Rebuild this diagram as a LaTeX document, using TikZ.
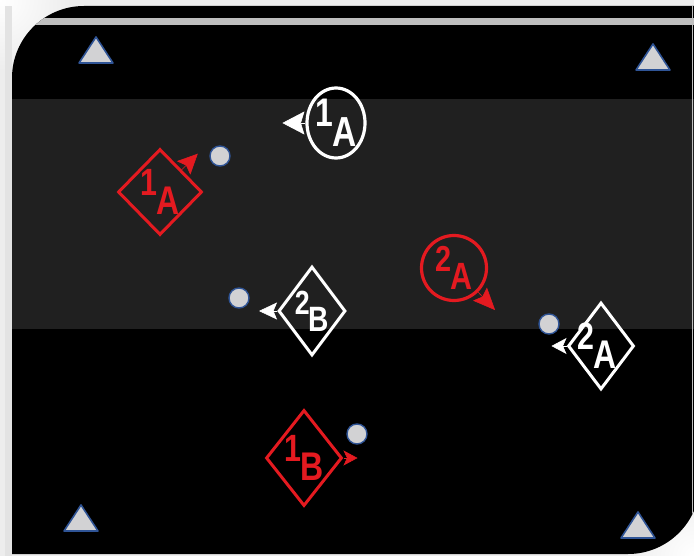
\documentclass[tikz,border=0pt]{standalone}
\usepackage{fontspec}
\usetikzlibrary{shapes.geometric,arrows.meta}
\newfontfamily\plfont[FakeStretch=0.8]{Liberation Sans}
\definecolor{plred}{RGB}{228,26,32}
\definecolor{band}{RGB}{32,32,32}
\definecolor{coneblue}{RGB}{47,84,150}
\definecolor{conegray}{RGB}{210,210,212}
\newcommand\plab[2]{\plfont\bfseries\raisebox{9.5pt}{\fontsize{38}{38}\selectfont#1}\kern-1pt\raisebox{-9.5pt}{\fontsize{40}{40}\selectfont#2}}
\tikzset{
  pdiam/.style={diamond, line width=3pt, inner sep=0pt, aspect=1},
  pcirc/.style={ellipse, line width=3.2pt, inner sep=0pt},
  ball/.style={circle, draw=coneblue, fill=conegray, line width=1.4pt, minimum size=20pt, inner sep=0pt},
  cone/.style={draw=coneblue, fill=conegray, line width=1.6pt, line join=round},
  ptip/.style n args={2}{line width=.6pt, -{Stealth[length=#1, width=#2, inset=3.5pt]}}
}
\begin{document}
\begin{tikzpicture}[x=1pt, y=-1pt]
  \useasboundingbox (0,0) rectangle (694,556);
  \clip (0,0) rectangle (694,556);
  \fill[gray!14] (0,0) rectangle (694,556);
  \shade[inner color=white, outer color=gray!14] (0,0) circle[radius=70];
  \shade[inner color=white, outer color=gray!14] (694,556) circle[radius=70];
  \fill[gray!22] (5,6) rectangle (12,556);
  \begin{scope}
    \clip (12,554) -- (12,78) arc[start angle=180, end angle=270, radius=72]
      -- (700,6) -- (700,482) arc[start angle=0, end angle=90, radius=72] -- cycle;
    \fill[black] (0,0) rectangle (694,556);
    \fill[band] (0,99) rectangle (694,329);
    \fill[gray!50] (0,18) rectangle (694,25);
    \draw[gray!50, line width=1.5pt] (692.5,0) -- (692.5,556);
  \end{scope}
  \foreach \x/\y in {96/50, 653/57, 81/518, 638/525}
    \draw[cone] (\x-17,\y+13) -- (\x+17,\y+13) -- (\x,\y-13) -- cycle;
  \node[ball] (b1) at (220,156) {};
  \node[ball] (b2) at (239,298) {};
  \node[ball] (b3) at (549,324) {};
  \node[ball] (b4) at (357,434) {};
  \node[pcirc, draw=white, minimum width=58pt, minimum height=70pt,
    label={[text=white, scale=1.05]center:\plab{1}{A}}] (w1A) at (336,123) {};
  \node[pdiam, draw=plred, minimum width=84pt, minimum height=86pt,
    label={[text=plred]center:\plab{1}{A}}] (r1A) at (160,192) {};
  \node[pdiam, draw=white, minimum width=67pt, minimum height=89pt,
    label={[text=white, scale=.88]center:\plab{2}{B}}] (w2B) at (312,311) {};
  \node[pcirc, draw=plred, minimum width=65pt, minimum height=65pt,
    label={[text=plred, scale=.95]center:\plab{2}{A}}] (r2A) at (454,268) {};
  \node[pdiam, draw=white, minimum width=66pt, minimum height=87pt,
    label={[text=white, xshift=-4pt]center:\plab{2}{A}}] (w2A) at (601,346) {};
  \node[pdiam, draw=plred, minimum width=76pt, minimum height=96pt,
    label={[text=plred]center:\plab{1}{B}}] (r1B) at (304,458) {};
  \draw[white, ptip={22pt}{23pt}] (w1A.west) -- ++(-23,0);
  \draw[plred, ptip={20pt}{19pt}] (r1A.north east) -- ++(16,-16);
  \draw[white, ptip={18pt}{17pt}] (w2B.west) -- ++(-18,0);
  \draw[plred, ptip={22pt}{19pt}] (r2A.south east) -- ++(17,18);
  \draw[white, ptip={15pt}{16pt}] (w2A.west) -- ++(-15,0);
  \draw[plred, ptip={14pt}{15pt}] (r1B.east) -- ++(14,0);
\end{tikzpicture}
\end{document}
